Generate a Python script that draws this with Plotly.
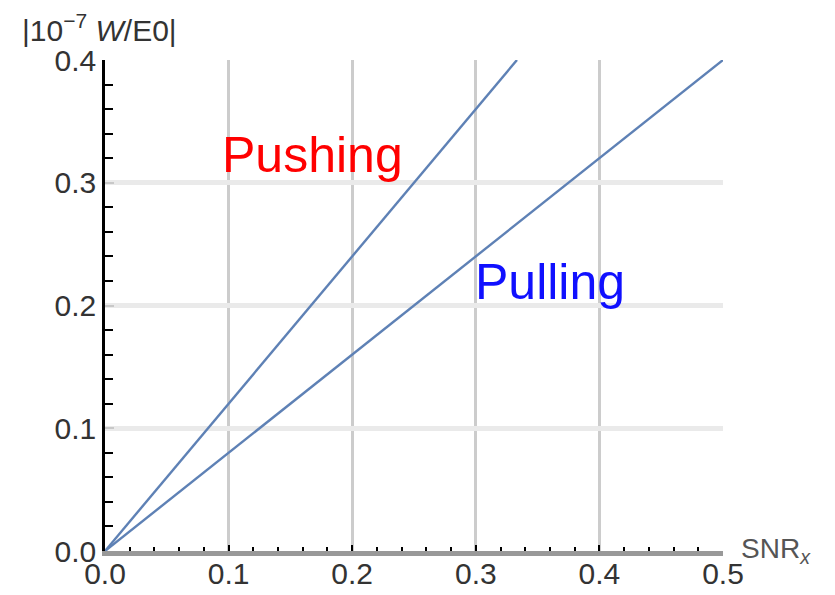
import plotly.graph_objects as go

# Energy ratio |W/E0| (units of 1e-7) versus SNR_x for the two regimes
snr_pushing = [0.0, 0.1, 0.2, 0.3, 0.3333]
w_pushing = [0.0, 0.12, 0.24, 0.36, 0.4]

snr_pulling = [0.0, 0.1, 0.2, 0.3, 0.4, 0.5]
w_pulling = [0.0, 0.08, 0.16, 0.24, 0.32, 0.4]

x_ticks = [0.0, 0.1, 0.2, 0.3, 0.4, 0.5]
y_ticks = [0.0, 0.1, 0.2, 0.3, 0.4]

LINE_COLOR = "#5e81b5"
FONT = "Liberation Sans, Arial, sans-serif"

fig = go.Figure()
fig.add_trace(go.Scatter(x=snr_pushing, y=w_pushing, mode="lines",
                         line=dict(color=LINE_COLOR, width=2.4), name="Pushing"))
fig.add_trace(go.Scatter(x=snr_pulling, y=w_pulling, mode="lines",
                         line=dict(color=LINE_COLOR, width=2.4), name="Pulling"))

# Plot-area geometry in pixels
W, H = 835, 595
ML, MR, MT, MB = 105, 112, 60, 44
pw, ph = W - ML - MR, H - MT - MB


def px_x(px):
    return (px - ML) / pw


def px_y(py):
    return (H - MB - py) / ph


fig.update_layout(
    width=W, height=H,
    margin=dict(l=ML, r=MR, t=MT, b=MB, pad=0, autoexpand=False),
    paper_bgcolor="white", plot_bgcolor="white",
    showlegend=False,
    font=dict(family=FONT, color="#333333", size=30),
    xaxis=dict(
        range=[0, 0.5], tickvals=x_ticks, tickformat=".1f",
        automargin=False, ticklabelstandoff=-8,
        showline=True, linecolor="#999999", linewidth=5,
        ticks="inside", ticklen=6, tickwidth=2, tickcolor="black",
        minor=dict(dtick=0.02, ticks="inside", ticklen=4, tickwidth=2,
                   tickcolor="black", showgrid=False),
        showgrid=True, gridcolor="#cccccc", gridwidth=2.5,
        zeroline=False, tickfont=dict(size=30, color="#333333"),
    ),
    yaxis=dict(
        range=[0, 0.4], tickvals=y_ticks, tickformat=".1f",
        automargin=False,
        showline=True, linecolor="black", linewidth=2.5,
        ticks="inside", ticklen=9, tickwidth=2, tickcolor="#c8c8c8",
        minor=dict(dtick=0.02, ticks="inside", ticklen=8, tickwidth=2,
                   tickcolor="black", showgrid=False),
        showgrid=True, gridcolor="#eaeaea", gridwidth=5,
        zeroline=False, tickfont=dict(size=30, color="#333333"),
    ),
)

# Axis labels
fig.add_annotation(
    xref="paper", yref="paper", x=px_x(20), y=px_y(28),
    xanchor="left", yanchor="middle", showarrow=False,
    text="|10<sup>\u22127</sup> <i>W</i>/E0|",
    font=dict(family=FONT, size=30, color="#333333"),
)
fig.add_annotation(
    xref="paper", yref="paper", x=px_x(739), y=px_y(550),
    xanchor="left", yanchor="middle", showarrow=False,
    text="SNR<sub><i>x</i></sub>",
    font=dict(family=FONT, size=28, color="#555555"),
)

# Regime labels
fig.add_annotation(x=0.168, y=0.323, text="Pushing", showarrow=False,
                   font=dict(family=FONT, size=50, color="#ff0000"))
fig.add_annotation(x=0.36, y=0.219, text="Pulling", showarrow=False,
                   font=dict(family=FONT, size=50, color="#1010ff"))

fig.write_html("out.html")
